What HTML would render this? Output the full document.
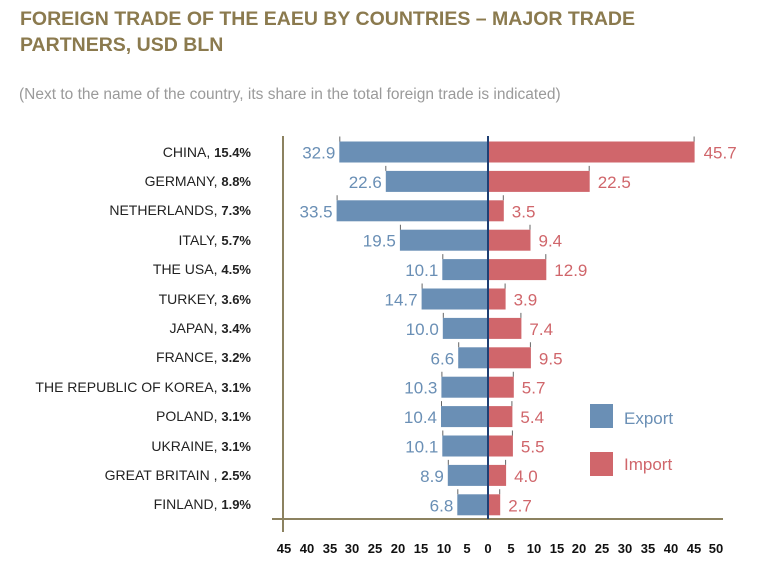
<!DOCTYPE html>
<html><head><meta charset="utf-8"><style>
html,body{margin:0;padding:0;background:#fff;}
svg{display:block;font-family:"Liberation Sans",Arial,sans-serif;}
</style></head><body>
<svg width="768" height="583" viewBox="0 0 768 583" xmlns="http://www.w3.org/2000/svg">
<text x="20" y="25" font-size="19.5" font-weight="bold" fill="#8b7a4e">FOREIGN TRADE OF THE EAEU BY COUNTRIES – MAJOR TRADE</text>
<text x="20" y="51" font-size="19.5" font-weight="bold" fill="#8b7a4e">PARTNERS, USD BLN</text>
<text x="19" y="99" font-size="15.5" fill="#9a9a9a">(Next to the name of the country, its share in the total foreign trade is indicated)</text>

<g font-size="14" text-anchor="end" fill="#222">
<text x="251" y="157">CHINA, <tspan font-weight="bold" font-size="13">15.4%</tspan></text>
<text x="251" y="186">GERMANY, <tspan font-weight="bold" font-size="13">8.8%</tspan></text>
<text x="251" y="215">NETHERLANDS, <tspan font-weight="bold" font-size="13">7.3%</tspan></text>
<text x="251" y="245">ITALY, <tspan font-weight="bold" font-size="13">5.7%</tspan></text>
<text x="251" y="274">THE USA, <tspan font-weight="bold" font-size="13">4.5%</tspan></text>
<text x="251" y="304">TURKEY, <tspan font-weight="bold" font-size="13">3.6%</tspan></text>
<text x="251" y="333">JAPAN, <tspan font-weight="bold" font-size="13">3.4%</tspan></text>
<text x="251" y="362">FRANCE, <tspan font-weight="bold" font-size="13">3.2%</tspan></text>
<text x="251" y="392">THE REPUBLIC OF KOREA, <tspan font-weight="bold" font-size="13">3.1%</tspan></text>
<text x="251" y="421">POLAND, <tspan font-weight="bold" font-size="13">3.1%</tspan></text>
<text x="251" y="451">UKRAINE, <tspan font-weight="bold" font-size="13">3.1%</tspan></text>
<text x="251" y="480">GREAT BRITAIN , <tspan font-weight="bold" font-size="13">2.5%</tspan></text>
<text x="251" y="509">FINLAND, <tspan font-weight="bold" font-size="13">1.9%</tspan></text>
</g>

<g fill="#6a8fb5">
<rect x="339.3" y="141.5" width="148.7" height="21"/>
<rect x="385.8" y="170.9" width="102.2" height="21"/>
<rect x="336.6" y="200.3" width="151.4" height="21"/>
<rect x="399.9" y="229.7" width="88.1" height="21"/>
<rect x="442.3" y="259.1" width="45.7" height="21"/>
<rect x="421.6" y="288.5" width="66.4" height="21"/>
<rect x="442.8" y="317.9" width="45.2" height="21"/>
<rect x="458.2" y="347.3" width="29.8" height="21"/>
<rect x="441.4" y="376.7" width="46.6" height="21"/>
<rect x="441.0" y="406.1" width="47.0" height="21"/>
<rect x="442.3" y="435.5" width="45.7" height="21"/>
<rect x="447.8" y="464.9" width="40.2" height="21"/>
<rect x="457.3" y="494.3" width="30.7" height="21"/>
</g>
<g fill="#d0666b">
<rect x="488" y="141.5" width="206.6" height="21"/>
<rect x="488" y="170.9" width="101.7" height="21"/>
<rect x="488" y="200.3" width="15.8" height="21"/>
<rect x="488" y="229.7" width="42.5" height="21"/>
<rect x="488" y="259.1" width="58.3" height="21"/>
<rect x="488" y="288.5" width="17.6" height="21"/>
<rect x="488" y="317.9" width="33.4" height="21"/>
<rect x="488" y="347.3" width="42.9" height="21"/>
<rect x="488" y="376.7" width="25.8" height="21"/>
<rect x="488" y="406.1" width="24.4" height="21"/>
<rect x="488" y="435.5" width="24.9" height="21"/>
<rect x="488" y="464.9" width="18.1" height="21"/>
<rect x="488" y="494.3" width="12.2" height="21"/>
</g>
<g stroke="#666" stroke-width="1">
<path d="M339.8 136.5V141.5M385.8 165.9V170.9M337.1 195.3V200.3M400.4 224.7V229.7M442.8 254.1V259.1M422.1 283.5V288.5M443.3 312.9V317.9M458.7 342.3V347.3M441.9 371.7V376.7M441.5 401.1V406.1M442.8 430.5V435.5M448.3 459.9V464.9M457.8 489.3V494.3"/>
<path d="M694.1 136.5V141.5M589.2 165.9V170.9M503.3 195.3V200.3M530 224.7V229.7M545.8 254.1V259.1M505.1 283.5V288.5M520.9 312.9V317.9M530.4 342.3V347.3M513.3 371.7V376.7M511.9 401.1V406.1M512.4 430.5V435.5M505.6 459.9V464.9M499.7 489.3V494.3"/>
</g>
<g font-size="17" text-anchor="end" fill="#6a8fb5">
<text x="335.3" y="158.5">32.9</text>
<text x="381.8" y="187.9">22.6</text>
<text x="332.6" y="217.3">33.5</text>
<text x="395.9" y="246.7">19.5</text>
<text x="438.3" y="276.1">10.1</text>
<text x="417.6" y="305.5">14.7</text>
<text x="438.8" y="334.9">10.0</text>
<text x="454.2" y="364.3">6.6</text>
<text x="437.4" y="393.7">10.3</text>
<text x="437.0" y="423.1">10.4</text>
<text x="438.3" y="452.5">10.1</text>
<text x="443.8" y="481.9">8.9</text>
<text x="453.3" y="511.3">6.8</text>
</g>
<g font-size="17" fill="#d0666b">
<text x="703.6" y="158.5">45.7</text>
<text x="597.7" y="187.9">22.5</text>
<text x="511.8" y="217.3">3.5</text>
<text x="538.5" y="246.7">9.4</text>
<text x="554.3" y="276.1">12.9</text>
<text x="513.6" y="305.5">3.9</text>
<text x="529.4" y="334.9">7.4</text>
<text x="538.9" y="364.3">9.5</text>
<text x="521.8" y="393.7">5.7</text>
<text x="520.4" y="423.1">5.4</text>
<text x="520.9" y="452.5">5.5</text>
<text x="514.1" y="481.9">4.0</text>
<text x="508.2" y="511.3">2.7</text>
</g>

<line x1="283" y1="136" x2="283" y2="532" stroke="#8c8260" stroke-width="2"/>
<line x1="272" y1="519" x2="723" y2="519" stroke="#8c8260" stroke-width="2"/>
<line x1="488" y1="136" x2="488" y2="519" stroke="#1f3f73" stroke-width="2"/>
<g font-size="13" font-weight="bold" fill="#111" text-anchor="middle">
<text x="284" y="553">45</text><text x="307" y="553">40</text><text x="330" y="553">35</text><text x="352" y="553">30</text><text x="375" y="553">25</text><text x="398" y="553">20</text><text x="421" y="553">15</text><text x="444" y="553">10</text><text x="467" y="553">5</text><text x="488" y="553">0</text><text x="511" y="553">5</text><text x="534" y="553">10</text><text x="557" y="553">15</text><text x="579" y="553">20</text><text x="602" y="553">25</text><text x="625" y="553">30</text><text x="648" y="553">35</text><text x="671" y="553">40</text><text x="694" y="553">45</text><text x="716" y="553">50</text>
</g>
<rect x="590" y="404" width="23" height="24" fill="#6a8fb5"/>
<text x="624" y="424" font-size="17" fill="#6a8fb5">Export</text>
<rect x="590" y="452" width="23" height="24" fill="#d0666b"/>
<text x="624" y="470" font-size="17" fill="#d0666b">Import</text>
</svg>
</body></html>
